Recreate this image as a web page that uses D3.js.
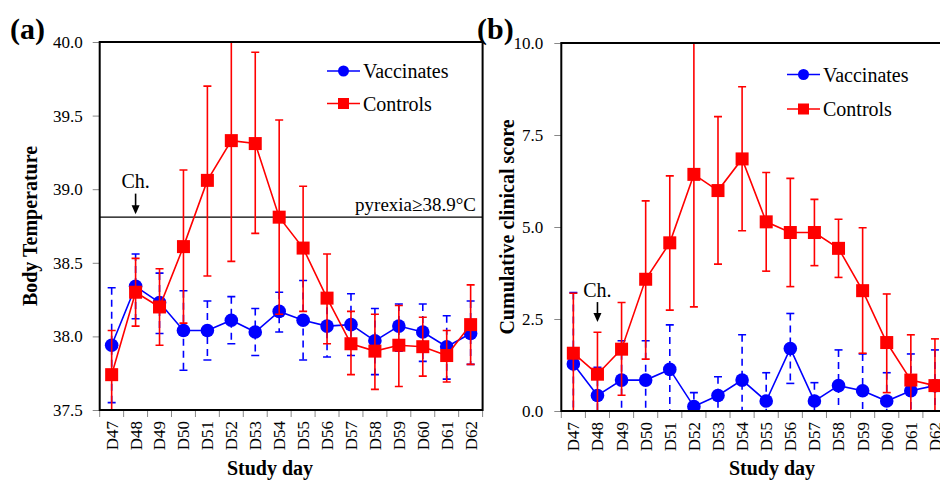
<!DOCTYPE html>
<meta charset="utf-8">
<head>
<script src="https://cdn.jsdelivr.net/npm/d3@7"></script>
<style>
body { margin: 0; background: #fff; }
text { font-family: "Liberation Serif", "Times New Roman", serif; fill: #000; }
.tick-lab { font-size: 17px; }
.ax-title { font-size: 20px; font-weight: bold; }
.panel-lab { font-size: 30px; font-weight: bold; }
.leg { font-size: 20px; }
.note { font-size: 19px; }
</style>
</head>
<body>
<script>

// study days
var days = ["D47","D48","D49","D50","D51","D52","D53","D54","D55","D56","D57","D58","D59","D60","D61","D62"];

// (a) body temperature, mean and error bar ends
var tempVacc   = [37.94, 38.34, 38.23, 38.04, 38.04, 38.11, 38.03, 38.17, 38.11, 38.07, 38.08, 37.97, 38.07, 38.03, 37.93, 38.02];
var tempVaccHi = [38.33, 38.56, 38.43, 38.31, 38.24, 38.27, 38.19, 38.30, 38.38, 38.28, 38.29, 38.19, 38.22, 38.22, 38.14, 38.24];
var tempVaccLo = [37.55, 38.12, 38.02, 37.77, 37.84, 37.95, 37.87, 38.03, 37.84, 37.86, 37.87, 37.74, 37.90, 37.83, 37.71, 37.81];
var tempCtrl   = [37.74, 38.30, 38.20, 38.61, 39.06, 39.33, 39.31, 38.81, 38.60, 38.26, 37.95, 37.90, 37.94, 37.93, 37.87, 38.08];
var tempCtrlHi = [38.04, 38.53, 38.46, 39.13, 39.70, 40.15, 39.93, 39.47, 39.02, 38.56, 38.17, 38.15, 38.21, 38.13, 38.04, 38.35];
var tempCtrlLo = [37.44, 38.07, 37.94, 38.09, 38.41, 38.51, 38.70, 38.15, 38.17, 37.95, 37.74, 37.64, 37.66, 37.73, 37.69, 37.81];
var tempTicks  = [37.5, 38.0, 38.5, 39.0, 39.5, 40.0];
var pyrexia = 38.81;

// (b) cumulative clinical score
var scoreVacc   = [1.28, 0.42, 0.84, 0.84, 1.13, 0.12, 0.42, 0.84, 0.27, 1.70, 0.27, 0.69, 0.55, 0.27, 0.55, 0.69];
var scoreVaccHi = [3.22, 1.19, 1.91, 1.91, 2.34, 0.50, 0.93, 2.07, 1.04, 2.65, 0.77, 1.66, 1.55, 1.04, 1.55, 1.66];
var scoreVaccLo = [-0.66, -0.35, -0.23, -0.23, -0.08, -0.26, -0.09, -0.39, -0.50, 0.75, -0.23, -0.28, -0.45, -0.50, -0.45, -0.28];
var scoreCtrl   = [1.57, 1.00, 1.68, 3.58, 4.57, 6.43, 5.99, 6.85, 5.14, 4.85, 4.85, 4.42, 3.27, 1.86, 0.84, 0.69];
var scoreCtrlHi = [3.20, 2.14, 2.95, 5.71, 6.39, 10.03, 8.00, 8.81, 6.48, 6.32, 5.75, 5.21, 4.98, 3.18, 2.07, 1.96];
var scoreCtrlLo = [-0.06, -0.14, 0.43, 1.41, 2.74, 2.83, 3.99, 4.90, 3.80, 3.38, 3.95, 3.63, 1.57, 0.50, -0.39, -0.58];
var scoreTicks  = [0.0, 2.5, 5.0, 7.5, 10.0];

var blue = "#0000ff", red = "#ff0000";

var svg = d3.select("body").append("svg")
    .attr("width", 940)
    .attr("height", 480);

function panel(o) {
  var x = d3.scaleBand().domain(days).range([o.left, o.right]).padding(0);
  var y = d3.scaleLinear().domain(o.domain).range([o.bottom, o.top]);
  var g = svg.append("g");
  var cx = function(d) { return x(d) + x.bandwidth() / 2; };

  g.append("clipPath").attr("id", o.id + "clip")
    .append("rect")
    .attr("x", o.left).attr("y", o.top)
    .attr("width", o.right - o.left).attr("height", o.bottom - o.top);

  // y ticks
  var yAxis = d3.axisLeft(y).tickValues(o.ticks).tickFormat(d3.format(".1f")).tickSize(7).tickPadding(o.tickPad);
  var ya = g.append("g").attr("transform", "translate(" + o.left + ",0)").call(yAxis);
  ya.attr("font-family", null).attr("font-size", null);
  ya.select(".domain").remove();
  ya.selectAll("line").attr("stroke", "#888");
  ya.selectAll("text").attr("class", "tick-lab");

  // x ticks at band edges
  var edges = days.map(function(d) { return x(d); }).concat([x.range()[1]]);
  g.selectAll(".xt").data(edges).enter().append("line")
    .attr("x1", function(d) { return d; }).attr("x2", function(d) { return d; })
    .attr("y1", o.bottom).attr("y2", o.bottom + 7)
    .attr("stroke", "#888");
  g.selectAll(".xl").data(days).enter().append("text")
    .attr("class", "tick-lab")
    .attr("transform", function(d) { return "translate(" + cx(d) + "," + (o.bottom + 11) + ") rotate(-90)"; })
    .attr("text-anchor", "end")
    .attr("dy", "0.35em")
    .text(function(d) { return d; });

  var plot = g.append("g").attr("clip-path", "url(#" + o.id + "clip)");

  if (o.threshold != null) {
    plot.append("line")
      .attr("x1", o.left).attr("x2", o.right)
      .attr("y1", y(o.threshold)).attr("y2", y(o.threshold))
      .attr("stroke", "#000").attr("stroke-width", 1.3);
  }

  function series(vals, hi, lo, color, dashed, square) {
    var pts = days.map(function(d, i) { return {d: d, v: vals[i], hi: hi[i], lo: lo[i]}; });
    var eb = plot.append("g");
    eb.selectAll("line.v").data(pts).enter().append("line")
      .attr("x1", function(p) { return cx(p.d); }).attr("x2", function(p) { return cx(p.d); })
      .attr("y1", function(p) { return y(p.hi); }).attr("y2", function(p) { return y(p.lo); })
      .attr("stroke", color).attr("stroke-width", 1.6)
      .attr("stroke-dasharray", dashed ? "7,5" : null);
    ["hi", "lo"].forEach(function(k) {
      eb.selectAll("line." + k).data(pts).enter().append("line")
        .attr("x1", function(p) { return cx(p.d) - 4; }).attr("x2", function(p) { return cx(p.d) + 4; })
        .attr("y1", function(p) { return y(p[k]); }).attr("y2", function(p) { return y(p[k]); })
        .attr("stroke", color).attr("stroke-width", 1.6);
    });
    plot.append("path").datum(pts)
      .attr("fill", "none").attr("stroke", color).attr("stroke-width", 1.6)
      .attr("d", d3.line().x(function(p) { return cx(p.d); }).y(function(p) { return y(p.v); }));
    if (square) {
      plot.selectAll(null).data(pts).enter().append("rect")
        .attr("x", function(p) { return cx(p.d) - 6.5; }).attr("y", function(p) { return y(p.v) - 6.5; })
        .attr("width", 13).attr("height", 13).attr("fill", color);
    } else {
      plot.selectAll(null).data(pts).enter().append("circle")
        .attr("cx", function(p) { return cx(p.d); }).attr("cy", function(p) { return y(p.v); })
        .attr("r", 6.8).attr("fill", color);
    }
  }
  series(o.vacc, o.vaccHi, o.vaccLo, blue, true, false);
  series(o.ctrl, o.ctrlHi, o.ctrlLo, red, false, true);

  // frame
  g.append("path")
    .attr("d", "M" + o.left + "," + o.top + "H" + o.right + "V" + o.bottom + "H" + o.left + "Z")
    .attr("fill", "none").attr("stroke", "#000").attr("stroke-width", 2);

  // challenge arrow
  var ax = cx("D48");
  g.append("text").attr("class", "leg").attr("x", ax).attr("y", y(o.ch[0]))
    .attr("text-anchor", "middle").text("Ch.");
  g.append("line").attr("x1", ax).attr("x2", ax)
    .attr("y1", y(o.ch[1])).attr("y2", y(o.ch[2]) - 7)
    .attr("stroke", "#000").attr("stroke-width", 1.6);
  g.append("path")
    .attr("d", "M" + (ax - 4) + "," + (y(o.ch[2]) - 9) + "L" + (ax + 4) + "," + (y(o.ch[2]) - 9) + "L" + ax + "," + y(o.ch[2]) + "Z")
    .attr("fill", "#000");

  // legend
  var lg = g.append("g").attr("transform", "translate(" + o.legX + "," + o.legY + ")");
  [["Vaccinates", blue, false], ["Controls", red, true]].forEach(function(e, i) {
    var yy = i * o.legGap;
    lg.append("line").attr("x1", 0).attr("x2", 33).attr("y1", yy).attr("y2", yy)
      .attr("stroke", e[1]).attr("stroke-width", 1.6);
    if (e[2]) lg.append("rect").attr("x", 11).attr("y", yy - 5.5).attr("width", 11).attr("height", 11).attr("fill", e[1]);
    else lg.append("circle").attr("cx", 16.5).attr("cy", yy).attr("r", 5.5).attr("fill", e[1]);
    lg.append("text").attr("class", "leg").attr("x", 36).attr("y", yy).attr("dy", "0.35em").text(e[0]);
  });

  // titles
  g.append("text").attr("class", "ax-title").attr("x", o.xTitleX).attr("y", 475)
    .attr("text-anchor", "middle").text("Study day");
  g.append("text").attr("class", "ax-title")
    .attr("transform", "translate(" + o.yTitleX + "," + ((o.top + o.bottom) / 2) + ") rotate(-90)")
    .attr("text-anchor", "middle").text(o.yTitle);
  g.append("text").attr("class", "panel-lab").attr("x", o.labX).attr("y", 39).text(o.label);

  return {x: x, y: y, g: g};
}

var pa = panel({
  id: "a", left: 99.7, right: 482.6, top: 42, bottom: 410, domain: [37.5, 40], ticks: tempTicks, tickPad: 10,
  vacc: tempVacc, vaccHi: tempVaccHi, vaccLo: tempVaccLo,
  ctrl: tempCtrl, ctrlHi: tempCtrlHi, ctrlLo: tempCtrlLo,
  threshold: pyrexia, ch: [39.01, 38.97, 38.83],
  legX: 327, legY: 71, legGap: 32.5,
  xTitleX: 270, yTitleX: 37, yTitle: "Body Temperature", labX: 10, label: "(a)"
});
pa.g.append("text").attr("class", "note")
  .attr("x", 476).attr("y", pa.y(pyrexia) - 6)
  .attr("text-anchor", "end").text("pyrexia\u226538.9\u00b0C");

panel({
  id: "b", left: 561.3, right: 947, top: 43, bottom: 411, domain: [0, 10], ticks: scoreTicks, tickPad: 11,
  vacc: scoreVacc, vaccHi: scoreVaccHi, vaccLo: scoreVaccLo,
  ctrl: scoreCtrl, ctrlHi: scoreCtrlHi, ctrlLo: scoreCtrlLo,
  threshold: null, ch: [3.1, 2.96, 2.42],
  legX: 787, legY: 74.5, legGap: 34.5,
  xTitleX: 772, yTitleX: 514, yTitle: "Cumulative clinical score", labX: 477, label: "(b)"
});

</script>
</body>
